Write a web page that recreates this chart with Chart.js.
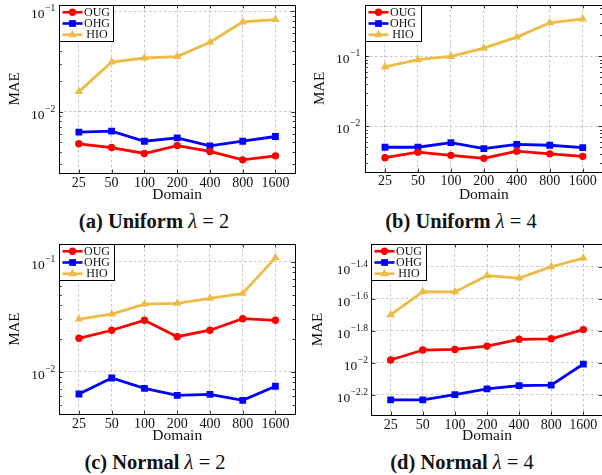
<!DOCTYPE html>
<html><head><meta charset="utf-8">
<script src="https://cdn.jsdelivr.net/npm/chart.js@4"></script>
<style>
html,body{margin:0;padding:0;background:#fff;}
#wrap{position:relative;width:602px;height:475px;overflow:hidden;background:#fff;}
#wrap canvas{position:absolute;}
.cap{position:absolute;font-family:"Liberation Serif","DejaVu Serif",serif;font-size:20.5px;white-space:nowrap;transform:translate(-50%,-50%);color:#111;line-height:1;}
.cap b{font-weight:bold;}
.cap i{font-style:italic;}
</style></head><body>
<div id="wrap">
<canvas id="ca" width="300" height="205" style="left:0;top:0"></canvas>
<canvas id="cb" width="310" height="205" style="left:300px;top:0"></canvas>
<canvas id="cc" width="300" height="210" style="left:0;top:235px"></canvas>
<canvas id="cd" width="310" height="210" style="left:300px;top:235px"></canvas>
<div class="cap" style="left:154px;top:221px"><b>(a) Uniform</b> <i>λ</i> = 2</div>
<div class="cap" style="left:461px;top:221px"><b>(b) Uniform</b> <i>λ</i> = 4</div>
<div class="cap" style="left:155px;top:462px"><b>(c) Normal</b> <i>λ</i> = 2</div>
<div class="cap" style="left:462px;top:462px"><b>(d) Normal</b> <i>λ</i> = 4</div>
</div>
<script>
// ---------- data ----------
const domains = ['25','50','100','200','400','800','1600'];
const seriesNames = ['OUG','OHG','HIO'];
const uniL2_OUG = [0.00478,0.00439,0.00383,0.00459,0.00401,0.00331,0.00363];
const uniL2_OHG = [0.00624,0.00638,0.00507,0.00547,0.00456,0.00507,0.00565];
const uniL2_HIO = [0.0158,0.0311,0.0341,0.0352,0.0489,0.0778,0.0820];
const uniL4_OUG = [0.00356,0.00427,0.00384,0.00348,0.00441,0.00404,0.00372];
const uniL4_OHG = [0.00502,0.00502,0.00584,0.00481,0.00553,0.00536,0.00497];
const uniL4_HIO = [0.0708,0.0898,0.100,0.132,0.189,0.303,0.344];
const norL2_OUG = [0.0201,0.0238,0.0293,0.0208,0.0238,0.0303,0.0293];
const norL2_OHG = [0.00626,0.00875,0.00705,0.00609,0.00622,0.00548,0.00736];
const norL2_HIO = [0.0301,0.0334,0.0412,0.0418,0.0464,0.0515,0.109];
const norL4_OUG = [0.0104,0.0120,0.0121,0.0127,0.0140,0.0141,0.0161];
const norL4_OHG = [0.00585,0.00585,0.00631,0.00685,0.00718,0.00724,0.00981];
const norL4_HIO = [0.01987,0.0278,0.0277,0.0350,0.0338,0.0398,0.0451];
// y tick labels, as exponents of ten
const yTickExpA = [-2,-1];
const yTickExpB = [-2,-1];
const yTickExpC = [-2,-1];
const yTickExpD = [-2.2,-2,-1.8,-1.6,-1.4];

// ---------- styling ----------
const FONT = '"Liberation Serif","DejaVu Serif",serif';
const colors = ['#ff0000','#0000ff','#eebb44'];
const markers = [
  {style:'circle', r:3.7},
  {style:'rect', r:4.8},
  {style:'triangle', r:4.9}
];

function expLabel(e){ return (e<0?'\u2212':'') + String(Math.abs(e)); }

function drawMarker(ctx, style, r, x, y, color){
  ctx.save();
  ctx.fillStyle = color;
  ctx.beginPath();
  if (style==='circle'){ ctx.arc(x,y,r,0,Math.PI*2); }
  else if (style==='rect'){ const s=r*Math.SQRT1_2; ctx.rect(x-s,y-s,2*s,2*s); }
  else { ctx.moveTo(x,y-r); ctx.lineTo(x+r*0.866,y+r*0.5); ctx.lineTo(x-r*0.866,y+r*0.5); ctx.closePath(); }
  ctx.fill();
  ctx.restore();
}

const decor = {
  id:'decor',
  afterDatasetsDraw(chart, args, o){
    const ctx = chart.ctx, ca = chart.chartArea;
    const ys = chart.scales.y, xs = chart.scales.x;
    ctx.save();
    // minor ticks
    ctx.strokeStyle = '#000'; ctx.lineWidth = 0.8;
    if (o.minor){
      const lo = Math.floor(Math.log10(ys.min)), hi = Math.ceil(Math.log10(ys.max));
      for (let n=lo;n<=hi;n++){
        for (let k=2;k<=9;k++){
          const v = k*Math.pow(10,n);
          if (v<=ys.min || v>=ys.max) continue;
          const y = Math.round(ys.getPixelForValue(v))+0.5;
          ctx.beginPath(); ctx.moveTo(ca.left,y); ctx.lineTo(ca.left+2.5,y);
          ctx.moveTo(ca.right,y); ctx.lineTo(ca.right-2.5,y); ctx.stroke();
        }
      }
    }
    // major ticks + labels
    const base = o.labelSize+'px '+FONT, sup = o.supSize+'px '+FONT;
    ctx.fillStyle = '#111';
    ctx.textBaseline = 'middle'; ctx.textAlign = 'left';
    o.exps.forEach(e=>{
      const y = Math.round(ys.getPixelForValue(Math.pow(10,e)))+0.5;
      ctx.beginPath(); ctx.moveTo(ca.left,y); ctx.lineTo(ca.left+4,y);
      ctx.moveTo(ca.right,y); ctx.lineTo(ca.right-4,y); ctx.stroke();
      const s = expLabel(e);
      ctx.font = sup; const wS = ctx.measureText(s).width;
      ctx.font = base; const wB = ctx.measureText('10').width;
      const xr = ca.left - o.labelGap;
      ctx.fillText('10', xr - wS - wB - 0.5, y + 2.5);
      ctx.font = sup; ctx.fillText(s, xr - wS, y - 3);
    });
    // x ticks inside
    xs.ticks.forEach(t=>{
      const x = Math.round(xs.getPixelForValue(t.value))+0.5;
      ctx.beginPath(); ctx.moveTo(x,ca.bottom); ctx.lineTo(x,ca.bottom-3.5);
      ctx.moveTo(x,ca.top); ctx.lineTo(x,ca.top+3.5); ctx.stroke();
    });
    // frame
    ctx.lineWidth = 1; ctx.strokeStyle = '#000';
    ctx.strokeRect(Math.round(ca.left)+0.5, Math.round(ca.top)+0.5, Math.round(ca.right-ca.left), Math.round(ca.bottom-ca.top));
    // legend
    const bx = Math.round(ca.left)+0.5, by = Math.round(ca.top)+0.5;
    ctx.fillStyle = '#fff';
    ctx.fillRect(bx, by, o.legW, o.legH);
    ctx.strokeRect(bx, by, o.legW, o.legH);
    ctx.font = '12px '+FONT; ctx.textAlign = 'center'; ctx.textBaseline = 'middle';
    chart.data.datasets.forEach((ds,i)=>{
      const cy = by + 6.8 + i*11.2;
      ctx.strokeStyle = ds.borderColor; ctx.lineWidth = 2.6;
      ctx.beginPath(); ctx.moveTo(bx+3, cy); ctx.lineTo(bx+23, cy); ctx.stroke();
      drawMarker(ctx, markers[i].style, markers[i].r, bx+13, cy, ds.borderColor);
      ctx.fillStyle = '#111';
      ctx.fillText(ds.label, bx+37.5, cy+0.5);
    });
    ctx.restore();
  }
};

function makeChart(id, series, exps, ymin, ymax, geo){
  const el = document.getElementById(id);
  const W = el.width, H = el.height;
  return new Chart(el, {
    type:'line',
    data:{
      datasets: series.map((vals,i)=>({
        label: seriesNames[i],
        data: vals.map((v,j)=>({x:j, y:v})),
        borderColor: colors[i], backgroundColor: colors[i],
        pointBackgroundColor: colors[i], pointBorderColor: colors[i],
        borderWidth: 2.8, pointBorderWidth: 0,
        pointStyle: markers[i].style, pointRadius: markers[i].r,
        tension: 0, fill:false
      }))
    },
    options:{
      responsive:false, animation:false, devicePixelRatio:1,
      layout:{padding:{top:geo.top, right: W-geo.right, left:0, bottom:0}},
      plugins:{legend:{display:false}, tooltip:{enabled:false},
        decor:{exps, minor:geo.minor, labelSize:13.5, supSize:9.5, labelGap:geo.gap, legW:geo.legW, legH:36}},
      scales:{
        x:{
          type:'linear', min:-0.6, max:6.6,
          afterBuildTicks: s=>{ s.ticks = domains.map((d,i)=>({value:i})); },
          afterFit: s=>{ s.height = H - geo.bottom; },
          ticks:{ callback: v=>domains[v], font:{family:FONT, size:14}, color:'#111', padding:geo.xpad, maxRotation:0, autoSkip:false },
          grid:{ color:'#b8b8b8', lineWidth:0.8, drawTicks:false },
          border:{ display:false, dash:[2.5,2.5] },
          title:{ display:true, text:'Domain', font:{family:FONT, size:15.5}, color:'#111', padding:{top:0,bottom:geo.tpad} }
        },
        y:{
          type:'logarithmic', min:ymin, max:ymax,
          afterBuildTicks: s=>{ s.ticks = exps.map(e=>({value:Math.pow(10,e), major:true})); },
          afterFit: s=>{ s.width = geo.left; },
          ticks:{ display:false },
          grid:{ color:'#b8b8b8', lineWidth:0.8, drawTicks:false },
          border:{ display:false, dash:[2.5,2.5] },
          title:{ display:true, text:'MAE', font:{family:FONT, size:15}, color:'#111', padding:{top:geo.ytpad,bottom:0} }
        }
      }
    },
    plugins:[decor]
  });
}

makeChart('ca', [uniL2_OUG, uniL2_OHG, uniL2_HIO], yTickExpA, 0.00245, 0.115,
  {left:59.2, right:296.8, top:4, bottom:173, minor:true, gap:4, legW:54, xpad:1.5, tpad:1, ytpad:6});
makeChart('cb', [uniL4_OUG, uniL4_OHG, uniL4_HIO], yTickExpB, 0.00222, 0.547,
  {left:65.2, right:302.5, top:2, bottom:172, minor:true, gap:5, legW:56, xpad:1, tpad:1, ytpad:11});
makeChart('cc', [norL2_OUG, norL2_OHG, norL2_HIO], yTickExpC, 0.00409, 0.145,
  {left:59.3, right:297.7, top:9, bottom:179.3, minor:true, gap:4, legW:55, xpad:2, tpad:0, ytpad:6});
makeChart('cd', [norL4_OUG, norL4_OHG, norL4_HIO], yTickExpD, 0.00471, 0.0552,
  {left:71.4, right:302.6, top:9, bottom:180, minor:false, gap:3.5, legW:55, xpad:2, tpad:0, ytpad:9});
</script>
</body></html>
